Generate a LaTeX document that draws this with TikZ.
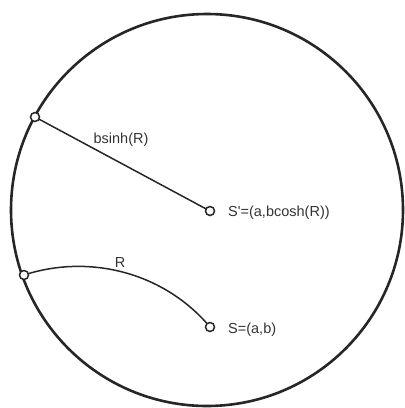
\documentclass[tikz,border=0pt]{standalone}
\usepackage{fontspec}
\setmainfont{Liberation Sans}[Ligatures=TeXOff]
\begin{document}
\begin{tikzpicture}[x=1pt,y=-1pt,
  ring/.style={draw=black!85, line width=2.6pt, circle, inner sep=0pt, minimum size=392pt},
  pt/.style={draw=black!85, fill=white, circle, line width=1.5pt, inner sep=0pt, minimum size=9pt},
  conn/.style={draw=black!85, line width=1.5pt},
  lbl/.style={font=\fontsize{14.5}{16}\selectfont, text=black!80, inner sep=0pt}]
\useasboundingbox (0,0) rectangle (405,408);
\node[ring] (disk) at (207,210) {};
\coordinate (A) at (35,117);
\coordinate (Sp) at (210,211);
\coordinate (B) at (24,275);
\coordinate (S) at (210,327);
\draw[conn] (A) -- (Sp);
\draw[conn] (B) to[out=18, in=130, looseness=0.93] (S);
\node[pt] (nA) at (A) {};
\node[pt] (nSp) at (Sp) {};
\node[pt] (nB) at (B) {};
\node[pt] (nS) at (S) {};
\node[lbl] (lsinh) at (121,140) {bsinh(R)};
\node[lbl, anchor=base] (lR) at (120,267) {R};
\node[lbl, anchor=west] (lSp) at (228,212.5) {S'=(a,bcosh(R))};
\node[lbl, anchor=west] (lS) at (228,329.5) {S=(a,b)};
\end{tikzpicture}
\end{document}
